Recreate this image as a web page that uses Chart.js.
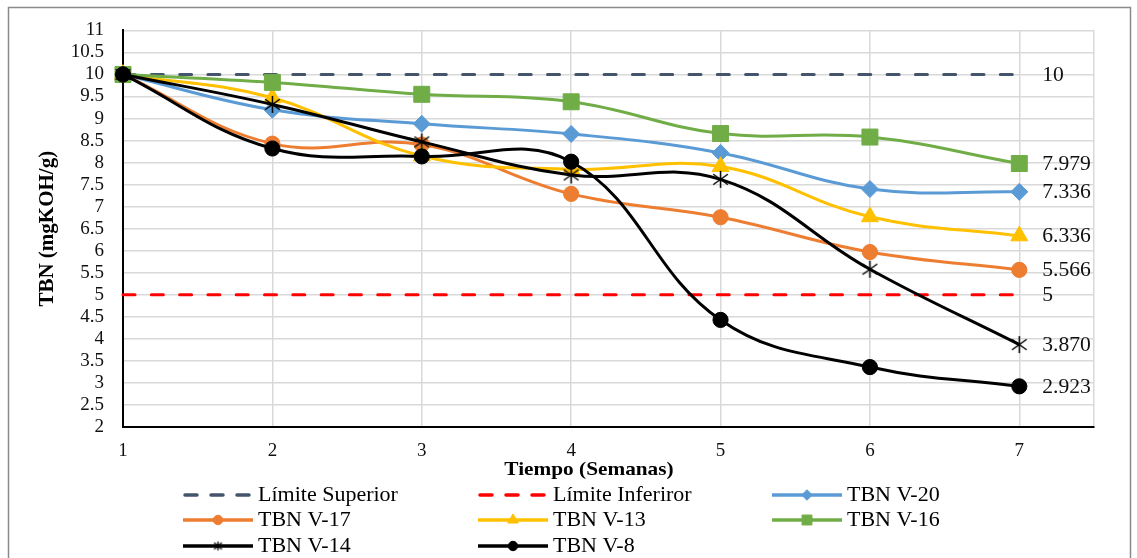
<!DOCTYPE html>
<html><head><meta charset="utf-8">
<script src="https://cdn.jsdelivr.net/npm/chart.js@4.4.0/dist/chart.umd.min.js"></script>
<style>html,body{margin:0;padding:0;background:#fff;}#wrap{position:relative;width:1137px;height:558px;}</style>
</head><body><div id="wrap"><canvas id="c" width="1137" height="558"></canvas></div>
<script>
// ---- data ----
const weeks = [1, 2, 3, 4, 5, 6, 7];
const limiteSuperior = [10, 10, 10, 10, 10, 10, 10];
const limiteInferior = [5, 5, 5, 5, 5, 5, 5];
const tbnV20 = [10, 9.2, 8.88, 8.65, 8.22, 7.4, 7.336];
const tbnV17 = [10, 8.43, 8.41, 7.29, 6.76, 5.97, 5.566];
const tbnV13 = [10, 9.47, 8.15, 7.85, 7.91, 6.77, 6.336];
const tbnV16 = [10, 9.82, 9.55, 9.38, 8.66, 8.58, 7.979];
const tbnV14 = [10, 9.32, 8.47, 7.72, 7.62, 5.58, 3.870];
const tbnV8  = [10, 8.32, 8.14, 8.02, 4.43, 3.36, 2.923];
const seriesNames = ['Límite Superior', 'Límite Inferiror', 'TBN V-20', 'TBN V-17', 'TBN V-13', 'TBN V-16', 'TBN V-14', 'TBN V-8'];
const xTicks = [1, 2, 3, 4, 5, 6, 7];
const yMin = 2, yMax = 11, yStep = 0.5;
const xTitle = 'Tiempo (Semanas)';
const yTitle = 'TBN (mgKOH/g)';

const FONT = "'Liberation Serif','Times New Roman',serif";

function starCanvas(size, lw) {
  const c = document.createElement('canvas');
  c.width = size; c.height = size;
  const g = c.getContext('2d');
  g.strokeStyle = '#000'; g.lineWidth = lw; g.lineCap = 'butt';
  const m = size / 2, r = size / 2 - 1;
  g.beginPath();
  g.moveTo(m, m - r); g.lineTo(m, m + r);
  const dx = r * Math.cos(Math.PI / 6), dy = r * Math.sin(Math.PI / 6);
  g.moveTo(m - dx, m - dy - 1); g.lineTo(m + dx, m + dy + 1);
  g.moveTo(m - dx, m + dy + 1); g.lineTo(m + dx, m - dy - 1);
  g.stroke();
  return c;
}
const starBig = starCanvas(19, 1.5);
const starSmall = starCanvas(11, 1.3);

const toXY = arr => arr.map((v, i) => ({ x: weeks[i], y: v }));

const styles = [
  { color: '#44546A', dash: [12, 16.3], style: false, r: 0 },
  { color: '#FF0000', dash: [12, 16.3], style: false, r: 0 },
  { color: '#5B9BD5', style: 'rectRot', r: 8.5 },
  { color: '#ED7D31', style: 'circle', r: 7.6 },
  { color: '#FFC000', style: 'triangle', r: 9.8 },
  { color: '#70AD47', style: 'rect', r: 11.3 },
  { color: '#000000', style: starBig, r: 9, legendStyle: starSmall },
  { color: '#000000', style: 'circle', r: 7.6 }
];
const seriesData = [limiteSuperior, limiteInferior, tbnV20, tbnV17, tbnV13, tbnV16, tbnV14, tbnV8];

const datasets = seriesData.map((arr, i) => {
  const s = styles[i];
  return {
    label: seriesNames[i],
    data: toXY(arr),
    borderColor: s.color,
    backgroundColor: s.color,
    borderWidth: 3,
    borderDash: s.dash || [],
    borderCapStyle: s.dash ? 'round' : 'butt',
    tension: s.dash ? 0 : 0.4,
    pointStyle: s.style || 'circle',
    pointRadius: s.r,
    pointHoverRadius: s.r,
    pointBackgroundColor: s.color,
    pointBorderColor: s.color,
    pointBorderWidth: 1,
    order: seriesData.length - i,
    clip: false
  };
});

const fmt = v => (Number.isInteger(v) ? String(v) : v.toFixed(3));

function wideText(ctx, text, x, y, sx) {
  ctx.save();
  ctx.translate(x, y);
  ctx.scale(sx, 1);
  ctx.fillText(text, 0, 0);
  ctx.restore();
}

const chrome = {
  id: 'chrome',
  beforeDraw(chart) {
    const ctx = chart.ctx;
    ctx.save();
    ctx.fillStyle = '#fff';
    ctx.fillRect(0, 0, chart.width, chart.height);
    ctx.strokeStyle = '#8a8a8a';
    ctx.lineWidth = 1.5;
    ctx.strokeRect(8.5, 7.5, 1122, 580);
    ctx.restore();
  },
  afterDatasetsDraw(chart) {
    const ctx = chart.ctx;
    ctx.save();
    ctx.font = '20px ' + FONT;
    ctx.fillStyle = '#111';
    ctx.textAlign = 'left';
    ctx.textBaseline = 'middle';
    chart.data.datasets.forEach((ds, i) => {
      const meta = chart.getDatasetMeta(i);
      const last = meta.data[meta.data.length - 1];
      const v = ds.data[ds.data.length - 1].y;
      wideText(ctx, fmt(v), last.x + 23, last.y + 1, 1.08);
    });
    ctx.restore();
  },
  afterDraw(chart) {
    const ctx = chart.ctx;
    ctx.save();
    // x axis title
    ctx.font = 'bold 19px ' + FONT;
    ctx.fillStyle = '#000';
    ctx.textAlign = 'center';
    ctx.textBaseline = 'middle';
    wideText(ctx, xTitle, 589, 470, 1.12);
    // legend
    const cols = [183, 478, 772], rows = [495, 520, 546];
    ctx.font = '20px ' + FONT;
    ctx.textAlign = 'left';
    chart.data.datasets.forEach((ds, i) => {
      const x0 = cols[i % 3], y0 = rows[Math.floor(i / 3)];
      const s = styles[i];
      ctx.save();
      ctx.strokeStyle = ds.borderColor;
      ctx.lineWidth = 3.5;
      ctx.setLineDash(s.dash ? [12, 14] : []);
      ctx.lineCap = s.dash ? 'round' : 'butt';
      ctx.beginPath();
      ctx.moveTo(x0 + (s.dash ? 2 : 0), y0);
      ctx.lineTo(x0 + 70, y0);
      ctx.stroke();
      ctx.restore();
      if (s.style) {
        ctx.save();
        ctx.fillStyle = ds.borderColor;
        ctx.strokeStyle = ds.borderColor;
        Chart.helpers.drawPoint(ctx, {
          pointStyle: s.legendStyle || s.style,
          radius: s.r * 0.62,
          rotation: 0,
          borderWidth: 1
        }, x0 + 35, y0);
        ctx.restore();
      }
      ctx.fillStyle = '#000';
      wideText(ctx, ds.label, x0 + 75, y0 + 1, 1.1);
    });
    ctx.restore();
  }
};

new Chart(document.getElementById('c'), {
  type: 'line',
  data: { datasets },
  options: {
    responsive: false,
    animation: false,
    events: [],
    layout: { padding: { top: 27, right: 43, left: 0, bottom: 0 } },
    plugins: { legend: { display: false }, tooltip: { enabled: false } },
    scales: {
      x: {
        type: 'linear',
        min: 1,
        max: 7.5,
        afterBuildTicks: s => { s.ticks = xTicks.concat([7.5]).map(v => ({ value: v })); },
        afterFit: s => { s.height = 131; },
        ticks: {
          font: { family: FONT, size: 19 },
          color: '#111',
          padding: 13,
          maxRotation: 0,
          autoSkip: false,
          callback: v => (xTicks.includes(v) ? String(v) : '')
        },
        grid: { color: '#d9d9d9', lineWidth: 1.5, drawTicks: false },
        border: { color: '#000', width: 2 }
      },
      y: {
        min: yMin,
        max: yMax,
        afterFit: s => { s.width = 123; },
        ticks: {
          stepSize: yStep,
          autoSkip: false,
          font: { family: FONT, size: 19 },
          color: '#111',
          padding: 19,
          callback: v => String(v)
        },
        grid: { color: '#d9d9d9', lineWidth: 1.5, drawTicks: false },
        border: { color: '#000', width: 2 },
        title: {
          display: true,
          text: yTitle,
          font: { family: FONT, size: 21, weight: 'bold' },
          color: '#000',
          padding: { top: 35, bottom: 0 }
        }
      }
    }
  },
  plugins: [chrome]
});
</script>
</body></html>
